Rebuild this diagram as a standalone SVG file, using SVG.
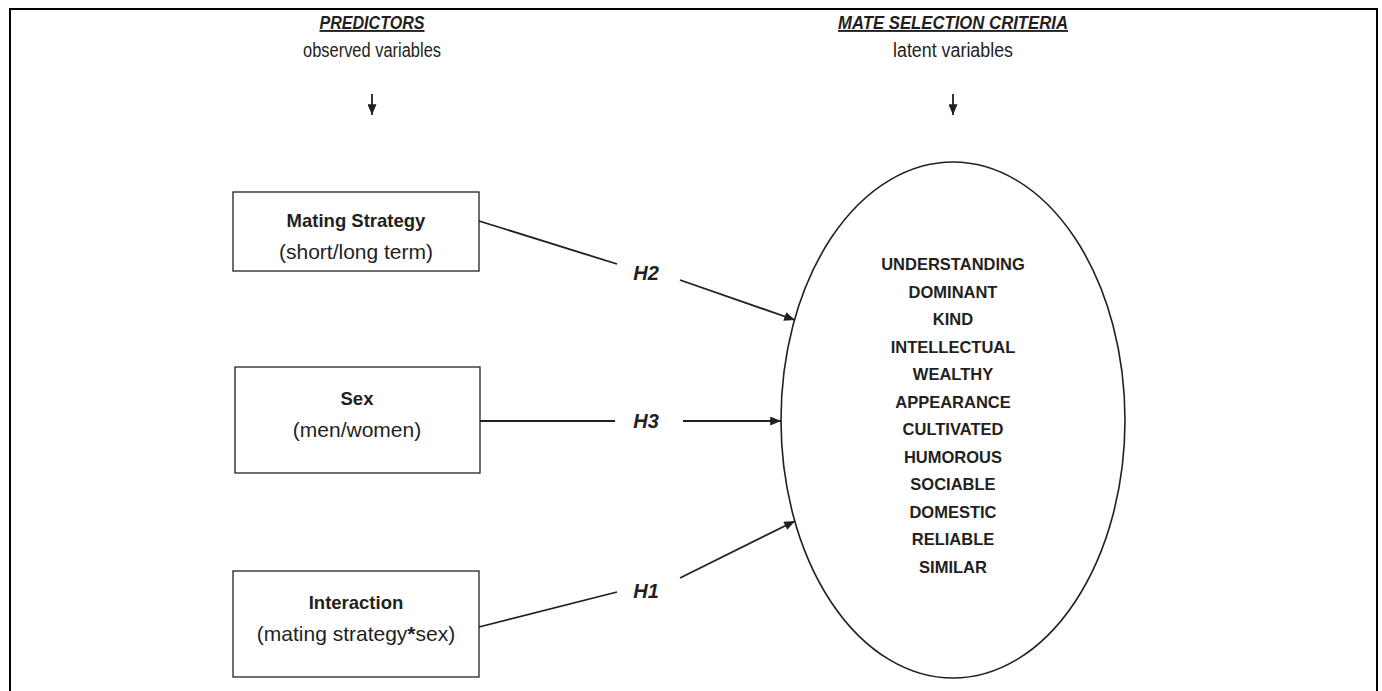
<svg xmlns="http://www.w3.org/2000/svg" width="1382" height="691" viewBox="0 0 1382 691">
<style>
text { font-family: "Liberation Sans", Arial, sans-serif; fill: #231f20; text-anchor: middle; }
.hdr { font-size: 19px; font-weight: bold; font-style: italic; text-decoration: underline; }
.sub { font-size: 20px; }
.bt { font-size: 18.5px; font-weight: bold; }
.rt { font-size: 21px; }
.h { font-size: 20px; font-weight: bold; font-style: italic; }
.crit { font-size: 16.5px; font-weight: bold; }
.box { fill: #ffffff; stroke: #231f20; stroke-width: 1.3; }
.edge { stroke: #231f20; stroke-width: 1.8; fill: none; }
</style>
<defs>
<marker id="ah" viewBox="0 0 12 10" refX="12" refY="5" markerWidth="12" markerHeight="9" markerUnits="userSpaceOnUse" orient="auto">
<path d="M0,0 L12,5 L0,10 z" fill="#231f20"/>
</marker>
</defs>
<rect x="10" y="9" width="1367" height="700" fill="none" stroke="#000" stroke-width="2"/>

<g id="header-predictors">
<text class="hdr" x="372" y="29" textLength="105" lengthAdjust="spacingAndGlyphs">PREDICTORS</text>
<text class="sub" x="372" y="57" textLength="138" lengthAdjust="spacingAndGlyphs">observed variables</text>
<line class="edge" x1="372" y1="94" x2="372" y2="115" marker-end="url(#ah)"/>
</g>
<g id="header-criteria">
<text class="hdr" x="953" y="29" textLength="230" lengthAdjust="spacingAndGlyphs">MATE SELECTION CRITERIA</text>
<text class="sub" x="953" y="57" textLength="120" lengthAdjust="spacingAndGlyphs">latent variables</text>
<line class="edge" x1="953" y1="94" x2="953" y2="115" marker-end="url(#ah)"/>
</g>

<g id="node-mating">
<rect class="box" x="233" y="192" width="246" height="79"/>
<text class="bt" x="356" y="227">Mating Strategy</text>
<text class="rt" x="356" y="259">(short/long term)</text>
</g>
<g id="node-sex">
<rect class="box" x="235" y="367" width="245" height="106"/>
<text class="bt" x="357" y="405">Sex</text>
<text class="rt" x="357" y="437">(men/women)</text>
</g>
<g id="node-interaction">
<rect class="box" x="233" y="571" width="246" height="106"/>
<text class="bt" x="356" y="609">Interaction</text>
<text class="rt" x="356" y="641">(mating strategy<tspan font-weight="bold">*</tspan>sex)</text>
</g>

<g id="node-criteria">
<ellipse cx="953" cy="420" rx="172" ry="258" fill="#fff" stroke="#231f20" stroke-width="1.6"/>
<text class="crit" x="953" y="270">UNDERSTANDING</text>
<text class="crit" x="953" y="298">DOMINANT</text>
<text class="crit" x="953" y="325">KIND</text>
<text class="crit" x="953" y="353">INTELLECTUAL</text>
<text class="crit" x="953" y="380">WEALTHY</text>
<text class="crit" x="953" y="408">APPEARANCE</text>
<text class="crit" x="953" y="435">CULTIVATED</text>
<text class="crit" x="953" y="463">HUMOROUS</text>
<text class="crit" x="953" y="490">SOCIABLE</text>
<text class="crit" x="953" y="518">DOMESTIC</text>
<text class="crit" x="953" y="545">RELIABLE</text>
<text class="crit" x="953" y="573">SIMILAR</text>
</g>

<g id="connectors">
<line class="edge" x1="479" y1="221" x2="617" y2="264"/>
<line class="edge" x1="680" y1="280" x2="795" y2="320" marker-end="url(#ah)"/>
<text class="h" x="646" y="280">H2</text>
<line class="edge" x1="480" y1="421" x2="615" y2="421"/>
<line class="edge" x1="683" y1="421" x2="781" y2="421" marker-end="url(#ah)"/>
<text class="h" x="646" y="428">H3</text>
<line class="edge" x1="479" y1="627" x2="617" y2="592"/>
<line class="edge" x1="680" y1="578" x2="795" y2="521" marker-end="url(#ah)"/>
<text class="h" x="646" y="598">H1</text>
</g>
</svg>
